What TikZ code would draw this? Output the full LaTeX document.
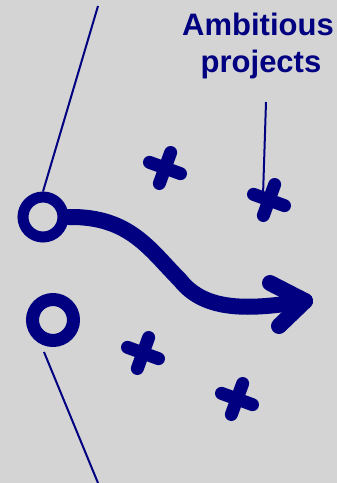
\documentclass[tikz,border=0pt]{standalone}
\usepackage{fontspec}
\setmainfont{Liberation Sans}
\definecolor{navy}{RGB}{0,0,128}
\definecolor{bggray}{RGB}{212,212,212}
\begin{document}
\begin{tikzpicture}[x=1pt,y=-1pt,
  thinline/.style={draw=navy, line width=2pt},
  crossarm/.style={draw=navy, line width=13pt, line cap=round},
  ring/.style={circle, draw=navy, minimum size=40pt, inner sep=0pt},
  arrowbody/.style={draw=navy, line width=16pt, line cap=round},
  arrowhead/.style={draw=navy, line width=16pt, line cap=round, line join=round},
  titletext/.style={text=navy, font=\bfseries\fontsize{31}{36}\selectfont, inner sep=0pt, anchor=base}]
\fill[bggray] (0,0) rectangle (337,483);
\useasboundingbox (0,0) rectangle (337,483);

% rings
\node[ring, line width=11pt] (ring1) at (43,217) {};
\node[ring, line width=13pt, minimum size=41pt] (ring2) at (53,320) {};

% thin lines
\coordinate (topend) at (98,6);
\coordinate (botstart) at (44,352);
\coordinate (botend) at (98,483);
\draw[thinline] (topend) -- (ring1.north);
\draw[thinline] (botstart) -- (botend);

% title
\node[titletext] (title1) at (258,35) {Ambitious};
\node[titletext] (title2) at (261,72) {projects};

% crosses
\coordinate (cross1) at (165,168);
\coordinate (cross2) at (269,200);
\coordinate (cross3) at (143,353);
\coordinate (cross4) at (237,399);
\foreach \c in {cross1,cross2,cross3,cross4}
  \draw[crossarm, shift={(\c)}, rotate=-20] (-16.5,0) -- (16.5,0) (0,-16.5) -- (0,16.5);

% pin line
\coordinate (pintop) at (266,102);
\coordinate (pinend) at (263,196);
\draw[thinline] (pintop) -- (pinend);

% curved arrow
\coordinate (tip) at (305,301);
\coordinate (headA) at (270,283);
\coordinate (headB) at (279,326);
\draw[arrowbody] (ring1.east) .. controls (130,216) and (150,250) .. (180,280)
  .. controls (205,312) and (250,310) .. (tip);
\draw[arrowhead] (headA) -- (tip) -- (headB);
\end{tikzpicture}
\end{document}
